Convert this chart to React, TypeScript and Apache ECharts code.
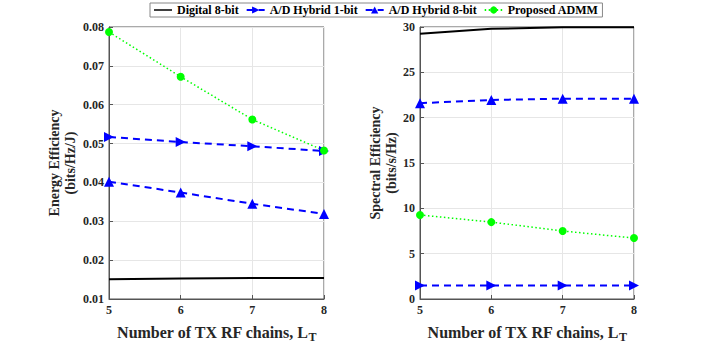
import React, { useEffect, useRef } from "react";
import * as echarts from "echarts";

const xValues = [5, 6, 7, 8];
const eeDigital = [0.0151, 0.0153, 0.0154, 0.0154];
const eeHybrid1 = [0.0517, 0.0504, 0.0493, 0.0481];
const eeHybrid8 = [0.0402, 0.0374, 0.0345, 0.0319];
const eeAdmm = [0.0787, 0.0672, 0.0562, 0.0482];
const seDigital = [29.25, 29.8, 29.96, 29.96];
const seHybrid1 = [1.5, 1.5, 1.5, 1.5];
const seHybrid8 = [21.6, 21.95, 22.1, 22.1];
const seAdmm = [9.27, 8.48, 7.5, 6.72];
const seriesNames = ["Digital 8-bit", "A/D Hybrid 1-bit", "A/D Hybrid 8-bit", "Proposed ADMM"];

const FONT = "Liberation Serif";
const pairs = (ys: number[]) => xValues.map((x, i) => [x, ys[i]]);

export default function App() {
  const ref = useRef<HTMLDivElement>(null);
  useEffect(() => {
    const chart = echarts.init(ref.current!, null, { renderer: "svg" });
    const xAxisBase = (gi: number) => ({
      type: "value",
      gridIndex: gi,
      min: 5,
      max: 8,
      interval: 1,
      name: "{a|Number of TX RF chains, L}{b|T}",
      nameLocation: "middle",
      nameGap: 22,
      nameTextStyle: {
        rich: {
          a: { fontFamily: FONT, fontWeight: "bold", fontSize: 16, color: "#262626" },
          b: { fontFamily: FONT, fontWeight: "bold", fontSize: 12, color: "#262626", padding: [10, 0, 0, 0] },
        },
      },
      axisLine: { show: true, lineStyle: { color: "#555", width: 1 } },
      axisTick: { show: true, inside: true, length: 4, lineStyle: { color: "#555" } },
      axisLabel: { fontFamily: FONT, fontWeight: "bold", fontSize: 12, color: "#262626", margin: 5 },
      splitLine: { show: true, lineStyle: { color: "#e6e6e6", width: 1 } },
    });
    const yAxisBase = (gi: number) => ({
      type: "value",
      gridIndex: gi,
      nameLocation: "middle",
      nameTextStyle: { fontFamily: FONT, fontWeight: "bold", fontSize: 14, color: "#262626", lineHeight: 16 },
      axisLine: { show: true, lineStyle: { color: "#555", width: 1 } },
      axisTick: { show: true, inside: true, length: 4, lineStyle: { color: "#555" } },
      axisLabel: { fontFamily: FONT, fontWeight: "bold", fontSize: 12, color: "#262626", margin: 5 },
      splitLine: { show: true, lineStyle: { color: "#e6e6e6", width: 1 } },
    });
    const mk = (name: string, data: number[], gi: number) => {
      const base: any = {
        name,
        type: "line",
        xAxisIndex: gi,
        yAxisIndex: gi,
        data: pairs(data),
        z: 3,
      };
      if (name === seriesNames[0]) {
        return { ...base, symbol: "none", lineStyle: { color: "#000", width: 2 }, itemStyle: { color: "#000" } };
      }
      if (name === seriesNames[1]) {
        return {
          ...base,
          symbol: "triangle",
          symbolSize: 10,
          symbolRotate: -90,
          lineStyle: { color: "#0000ff", width: 2, type: [7, 5] },
          itemStyle: { color: "#0000ff" },
        };
      }
      if (name === seriesNames[2]) {
        return {
          ...base,
          symbol: "triangle",
          symbolSize: 10,
          lineStyle: { color: "#0000ff", width: 2, type: [7, 5] },
          itemStyle: { color: "#0000ff" },
        };
      }
      return {
        ...base,
        symbol: "circle",
        symbolSize: 8,
        lineStyle: { color: "#00ff00", width: 1.5, type: [1.5, 2.5] },
        itemStyle: { color: "#00ff00" },
      };
    };
    chart.setOption({
      animation: false,
      backgroundColor: "#fff",
      legend: {
        data: [
          { name: seriesNames[0], icon: "path://M0 9 L24 9 L24 11 L0 11 Z" },
          { name: seriesNames[1] },
          { name: seriesNames[2] },
          { name: seriesNames[3] },
        ],
        left: 150,
        top: 3,
        itemGap: 7,
        itemWidth: 18,
        itemHeight: 9,
        padding: [1, 4, 1, 4],
        borderColor: "#888",
        borderWidth: 1,
        backgroundColor: "#fff",
        textStyle: { fontFamily: FONT, fontWeight: "bold", fontSize: 12, color: "#000" },
      },
      grid: [
        { left: 109, right: 382, top: 27, bottom: 43, show: true, borderColor: "#555", borderWidth: 1, backgroundColor: "transparent" },
        { left: 420, right: 72, top: 27, bottom: 43, show: true, borderColor: "#555", borderWidth: 1, backgroundColor: "transparent" },
      ],
      xAxis: [xAxisBase(0), xAxisBase(1)],
      yAxis: [
        {
          ...yAxisBase(0),
          min: 0.01,
          max: 0.08,
          interval: 0.01,
          name: "Energy Efficiency\n(bits/Hz/J)",
          nameGap: 31,
          axisLabel: {
            fontFamily: FONT, fontWeight: "bold", fontSize: 12, color: "#262626", margin: 5,
            formatter: (v: number) => v.toFixed(2),
          },
        },
        {
          ...yAxisBase(1),
          min: 0,
          max: 30,
          interval: 5,
          name: "Spectral Efficiency\n(bits/s/Hz)",
          nameGap: 21,
        },
      ],
      series: [
        mk(seriesNames[0], eeDigital, 0),
        mk(seriesNames[1], eeHybrid1, 0),
        mk(seriesNames[2], eeHybrid8, 0),
        mk(seriesNames[3], eeAdmm, 0),
        mk(seriesNames[0], seDigital, 1),
        mk(seriesNames[1], seHybrid1, 1),
        mk(seriesNames[2], seHybrid8, 1),
        mk(seriesNames[3], seAdmm, 1),
      ],
    });
    return () => chart.dispose();
  }, []);
  return <div ref={ref} style={{ position: "absolute", left: 0, top: 0, width: 706, height: 348 }} />;
}
